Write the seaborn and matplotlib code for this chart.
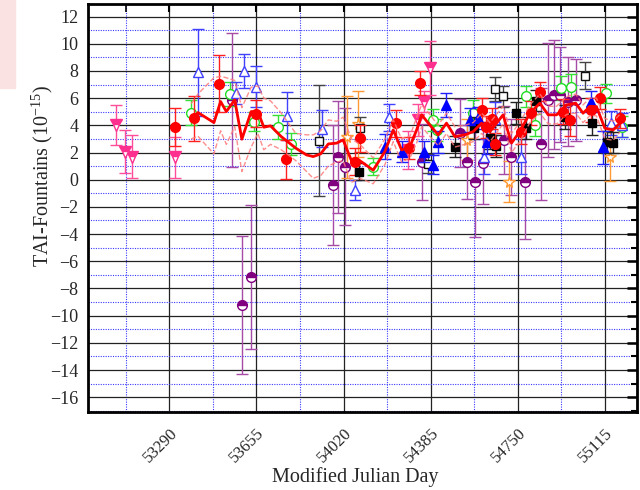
import numpy as np
import pandas as pd
import matplotlib
matplotlib.use('Agg')
import matplotlib.pyplot as plt
import seaborn as sns
from matplotlib.ticker import MultipleLocator, FixedLocator
from matplotlib.patches import Rectangle

# ---------------- data ----------------
xticks = [53290, 53655, 54020, 54385, 54750, 55115]

pink_x = [53068, 53106, 53134, 53315, 54290, 54330, 54357, 54381]
pink_y = [4.03, 2.07, 1.70, 1.65, 2.20, 4.40, 5.75, 8.20]
pink_e = [1.5, 1.55, 1.6, 1.5, 1.4, 1.2, 0.8, 2.0]

red_x = [53315, 53393, 53497, 53654, 53777, 54067, 54089, 54238, 54295, 54340,
         54598, 54615, 54640, 54656, 54761, 54807, 54842, 54939, 54967, 55058, 55093, 55176]
red_y = [3.86, 4.52, 7.07, 4.84, 1.50, 1.33, 3.05, 4.16, 2.32, 7.10,
         5.14, 3.85, 4.50, 2.60, 3.54, 4.89, 6.48, 5.01, 4.40, 5.14, 6.00, 4.52]
red_e = [1.4, 1.65, 2.1, 1.0, 1.45, 1.0, 1.0, 1.0, 0.8, 0.9,
         0.9, 0.8, 0.8, 0.8, 0.9, 0.9, 0.7, 0.9, 1.2, 0.9, 0.8, 0.7]

bopen_x = [53410, 53570, 53603, 53652, 53784, 53930, 54067, 54210, 54607, 54654, 54761, 55142, 55184]
bopen_y = [7.91, 6.36, 8.03, 6.85, 4.69, 3.74, -0.75, 4.60, 1.70, 4.50, 1.70, 4.16, 4.03]
bopen_e = [3.2, 0.8, 1.25, 1.5, 1.75, 1.35, 0.75, 1.0, 1.3, 1.2, 1.3, 0.9, 0.9]

bfill_x = [54193, 54263, 54357, 54395, 54416, 54447, 54549, 54584, 54619, 55058, 55107]
bfill_y = [2.44, 2.07, 2.07, 1.09, 2.80, 5.50, 4.40, 4.52, 2.80, 5.75, 2.39]
bfill_e = [0.9, 0.8, 0.8, 0.7, 0.8, 0.9, 0.9, 0.8, 0.9, 0.8, 1.2]

green_x = [53380, 53543, 53643, 53745, 53801, 54144, 54395, 54412, 54560, 54786,
           54821, 54930, 54972, 55121, 55187]
green_y = [4.94, 6.31, 4.28, 3.86, 2.63, 0.97, 4.40, 3.66, 4.94, 6.12,
           4.03, 6.73, 6.85, 6.36, 3.91]
green_e = [0.9, 0.9, 0.7, 0.9, 0.8, 0.6, 0.8, 0.8, 0.9, 0.8,
           0.8, 0.9, 0.9, 0.7, 0.8]

purple_x = [53552, 53594, 53633, 53977, 53998, 54025, 54347, 54508, 54538, 54570,
            54602, 54690, 54723, 54779, 54845, 54877, 54900, 54928, 54960, 54995]
purple_y = [5.87, -9.21, -7.17, -0.38, 1.66, 0.96, 1.33, 3.42, 1.29, -0.14,
            1.21, 2.93, 1.70, -0.14, 2.61, 5.87, 6.24, 6.24, 5.75, 5.87]
purple_e = [4.9, 5.05, 5.3, 4.4, 4.1, 4.3, 2.8, 2.5, 2.7, 4.1,
            3.0, 2.5, 2.8, 4.2, 4.1, 4.2, 4.0, 3.5, 3.3, 3.0]

sqopen_x = [53918, 54089, 54374, 54654, 54686, 55033]
sqopen_y = [2.88, 3.79, 1.16, 6.66, 6.12, 7.64]
sqopen_e = [4.1, 0.8, 0.7, 0.9, 0.8, 1.0]

sqfill_x = [54085, 54486, 54566, 54633, 54658, 54742, 54786, 54826, 54948, 55061, 55125, 55149]
sqfill_y = [0.60, 2.44, 3.79, 3.05, 2.49, 4.89, 3.79, 5.82, 4.60, 4.20, 2.80, 2.73]
sqfill_e = [0.6, 0.8, 0.8, 0.8, 0.8, 0.8, 0.8, 0.8, 0.9, 0.9, 0.8, 0.8]

star_x = [54035, 54081, 54535, 54713, 55135]
star_y = [3.13, 4.10, 2.93, -0.14, 1.70]
star_e = [3.0, 2.4, 1.5, 1.5, 1.8]

line_x = [53382, 53410, 53477, 53505, 53529, 53564, 53594, 53633, 53661, 53686,
          53714, 53759, 53820, 53865, 53893, 53924, 53956, 53991, 54018, 54053,
          54088, 54144, 54193, 54228, 54263, 54298, 54326, 54347, 54381, 54416,
          54451, 54486, 54528, 54563, 54598, 54633, 54688, 54723, 54758, 54800,
          54842, 54877, 54912, 54954, 54992, 55023, 55051, 55079, 55114, 55149, 55177]
line_y = [4.40, 4.94, 4.20, 5.75, 5.01, 5.87, 2.98, 5.01, 5.01, 3.86,
          3.96, 3.17, 2.32, 1.82, 1.70, 1.90, 2.63, 2.69, 2.93, 1.40,
          1.40, 0.70, 2.07, 3.66, 2.19, 2.44, 3.66, 4.77, 4.03, 3.30,
          4.16, 3.17, 3.30, 3.54, 4.16, 3.54, 4.77, 2.69, 3.54, 4.89,
          5.63, 4.77, 4.77, 5.50, 5.63, 4.89, 5.38, 5.38, 3.79, 3.66, 4.16]
upper_y = [5.6, 6.3, 7.5, 7.6, 7.5, 7.3, 5.3, 6.8, 6.9, 6.0,
           5.8, 4.9, 3.4, 3.3, 3.3, 3.6, 4.4, 4.3, 4.6, 3.0,
           2.6, 1.6, 3.0, 4.4, 3.0, 3.2, 4.6, 5.5, 4.8, 4.0,
           4.9, 3.9, 4.0, 4.2, 4.9, 4.2, 5.4, 3.4, 4.2, 5.5,
           6.3, 5.4, 5.4, 6.1, 6.3, 5.5, 6.0, 6.0, 4.5, 4.3, 4.8]
lower_y = [3.0, 3.2, 1.9, 3.6, 2.6, 3.9, 0.6, 2.4, 3.4, 2.2,
           2.6, 2.2, 1.4, 0.6, 0.1, 0.3, 1.0, 1.3, 1.4, -0.2,
           0.1, -0.3, 1.1, 2.8, 1.3, 1.6, 2.7, 3.9, 3.2, 2.5,
           3.4, 2.4, 2.6, 2.8, 3.4, 2.8, 4.1, 2.0, 2.8, 4.2,
           4.9, 4.1, 4.1, 4.8, 4.9, 4.2, 4.7, 4.7, 3.0, 2.9, 3.5]

# ---------------- style ----------------
sns.set_theme(style='white')
plt.rcParams['font.family'] = ['Liberation Serif', 'DejaVu Serif']
plt.rcParams['mathtext.fontset'] = 'custom'
plt.rcParams['mathtext.rm'] = 'Liberation Serif'
plt.rcParams['mathtext.it'] = 'Liberation Serif:italic'

fig = plt.figure(figsize=(6.4, 4.9), dpi=100)
fig.patches.append(Rectangle((0, 1 - 88 / 490), 15 / 640, 88 / 490,
                             transform=fig.transFigure, color='#fbe2e2', zorder=0))
ax = fig.add_axes([0.138, 0.160, 0.857, 0.832])
ax.set_facecolor('white')


def eb(x, y, e, marker, color, face, ecolor=None, fill='full', alt='white', ms=7, z=3, alpha=1.0):
    ax.errorbar(x, y, yerr=e, fmt=marker, ms=ms, mfc=face, mec=color,
                ecolor=ecolor or color, elinewidth=1.0, capsize=4, capthick=1.0,
                fillstyle=fill, markerfacecoloralt=alt, mew=1.0, zorder=z, alpha=alpha)


eb(purple_x, purple_y, purple_e, 'o', '#800080', '#800080', ecolor='#a64ca6', fill='top', ms=7, z=3)
eb(star_x, star_y, star_e, '*', '#ff9933', 'white', ecolor='#ff9933', ms=8.5, z=3)
eb(sqopen_x, sqopen_y, sqopen_e, 's', '#111111', 'white', ecolor='#444444', ms=6, z=3)
eb(green_x, green_y, green_e, 'o', '#22dd22', 'white', ecolor='#33e033', ms=7, z=3)
eb(bopen_x, bopen_y, bopen_e, '^', '#4040ff', 'white', ecolor='#4040ff', ms=7.5, z=3)
eb(pink_x, pink_y, pink_e, 'v', '#ff2f8f', '#ff2f8f', ecolor='#ff4d9a', fill='top', ms=8, z=3)
eb(sqfill_x, sqfill_y, sqfill_e, 's', '#000000', '#000000', ecolor='#222222', ms=6, z=4)
eb(bfill_x, bfill_y, bfill_e, '^', '#0000ff', '#0000ff', ecolor='#2020ff', ms=7.5, z=4)
eb(red_x, red_y, red_e, 'o', '#ff0000', '#ff0000', ecolor='#ff2020', ms=7, z=4)

sns.lineplot(x=line_x, y=upper_y, ax=ax, color='#ff7a7a', lw=1.0, linestyle='--',
             sort=False, zorder=5, alpha=0.85)
sns.lineplot(x=line_x, y=lower_y, ax=ax, color='#ff7a7a', lw=1.0, linestyle='--',
             sort=False, zorder=5, alpha=0.85)
sns.lineplot(x=line_x, y=line_y, ax=ax, color='#ff0000', lw=2.0, sort=False, zorder=6)

# ---------------- axes ----------------
ax.set_xlim(52951, 55248)
ax.set_ylim(-17.06, 12.93)
ax.xaxis.set_major_locator(FixedLocator(xticks))
ax.xaxis.set_minor_locator(FixedLocator([t - 182.5 for t in xticks]))
ax.yaxis.set_major_locator(MultipleLocator(2))
ax.yaxis.set_minor_locator(MultipleLocator(1))
ax.set_xticklabels([str(t) for t in xticks], rotation=45, ha='right',
                   rotation_mode='anchor', fontsize=12)
ax.tick_params(axis='y', labelsize=13)

ax.grid(which='major', color='#222222', lw=0.9, ls='-', zorder=1)
ax.grid(which='minor', color='#3a3aff', lw=0.8, ls=(0, (1, 1.2)), zorder=1)
ax.set_axisbelow(True)

ax.tick_params(which='both', direction='in', top=True, right=True, color='black')
ax.tick_params(axis='y', which='major', length=7, width=1.8, pad=7)
ax.tick_params(axis='y', which='minor', length=4, width=1.5)
ax.tick_params(axis='x', which='major', length=6, width=1.5, pad=10)
ax.tick_params(axis='x', which='minor', length=6, width=1.2)
for s in ax.spines.values():
    s.set_linewidth(2)
    s.set_color('black')

ax.set_xlabel('')
ax.set_ylabel('')
fig.text(42 / 640, 1 - 176 / 490, r'TAI-Fountains (10$^{\mathregular{-15}}$)',
         rotation=90, ha='center', va='center', fontsize=14.5)
fig.text(355 / 640, 1 - 477 / 490, 'Modified Julian Day', ha='center', va='center',
         fontsize=14.5)

fig.savefig('out.png', dpi=100)
